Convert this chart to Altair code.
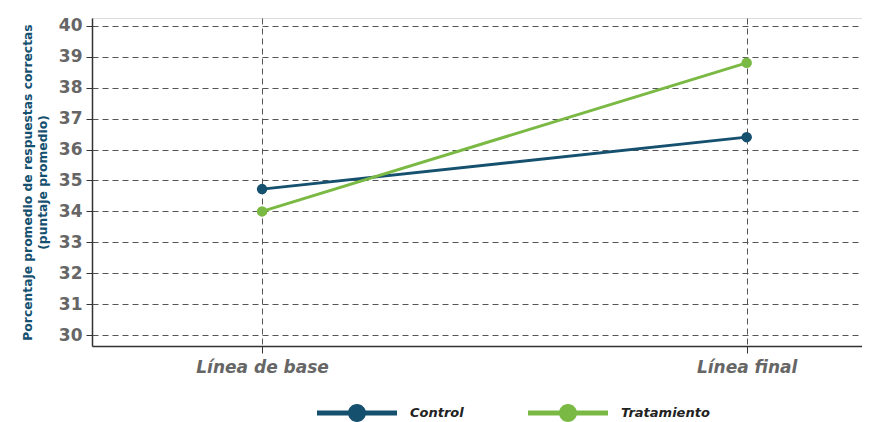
import altair as alt
import pandas as pd

etapas = ["Línea de base", "Línea final"]
etapa_pos = [0, 1]
control = [34.72, 36.4]
tratamiento = [34.0, 38.8]
grupos = ["Control", "Tratamiento"]
colores = ["#15506f", "#7ab943"]

rows = []
for g, vals in zip(grupos, [control, tratamiento]):
    for e, p, v in zip(etapas, etapa_pos, vals):
        rows.append({"grupo": g, "etapa": e, "pos": p, "valor": v})
df = pd.DataFrame(rows)

color_scale = alt.Scale(domain=grupos, range=colores)
FONT = "DejaVu Sans"

x = alt.X("pos:Q",
          scale=alt.Scale(domain=[-0.351, 1.238], nice=False, zero=False),
          axis=alt.Axis(values=etapa_pos, title=None,
                        labelExpr="datum.value == 0 ? 'Línea de base' : 'Línea final'",
                        labelFont=FONT, labelFontWeight="bold", labelFontStyle="italic",
                        labelFontSize=17, labelColor="#666666", labelPadding=6,
                        tickColor="#333333", tickSize=7, domainColor="#333333", domainWidth=1.5,
                        grid=True, gridDash=[6, 4], gridColor="#555555", gridWidth=1))
y = alt.Y("valor:Q",
          scale=alt.Scale(domain=[29.65, 40.25], nice=False, zero=False),
          axis=alt.Axis(values=list(range(30, 41)), title=["Porcentaje promedio de respuestas correctas", "(puntaje promedio)"],
                        titleFont=FONT, titleFontWeight="bold", titleFontSize=12.3,
                        titleColor="#15506f", titlePadding=9, titleLineHeight=15,
                        labelFont=FONT, labelFontWeight="bold", labelFontSize=17,
                        labelColor="#666666", labelPadding=4,
                        tickColor="#333333", tickSize=6, domainColor="#333333", domainWidth=1.5,
                        grid=True, gridDash=[6, 4], gridColor="#555555", gridWidth=1))

lines = alt.Chart(df).mark_line(strokeWidth=3).encode(
    x=x, y=y,
    color=alt.Color("grupo:N", scale=color_scale),
    detail="grupo:N",
)

sym = "M-4,-0.24 L4,-0.24 L4,0.24 L-4,0.24 Z M-0.9,0 A0.9,0.9 0 1,1 0.9,0 A0.9,0.9 0 1,1 -0.9,0 Z"

points = alt.Chart(df).mark_point(filled=True, size=110, opacity=1).encode(
    x=x, y=y,
    color=alt.Color("grupo:N", scale=color_scale,
                    legend=alt.Legend(title=None, orient="none", legendX=255, legendY=385,
                                      direction="horizontal", symbolType=sym, symbolSize=400,
                                      symbolStrokeWidth=0, symbolOpacity=1,
                                      labelFont=FONT, labelFontWeight="bold",
                                      labelFontStyle="italic", labelFontSize=13,
                                      labelColor="#222222", labelOffset=43,
                                      columnPadding=64)),
)

chart = (lines + points).properties(width=770, height=328).configure_view(stroke=None).configure(
    padding={"left": 13, "top": 8, "right": 0, "bottom": 5})

chart.save("out.html", embed_options={"renderer": "svg", "actions": False})
